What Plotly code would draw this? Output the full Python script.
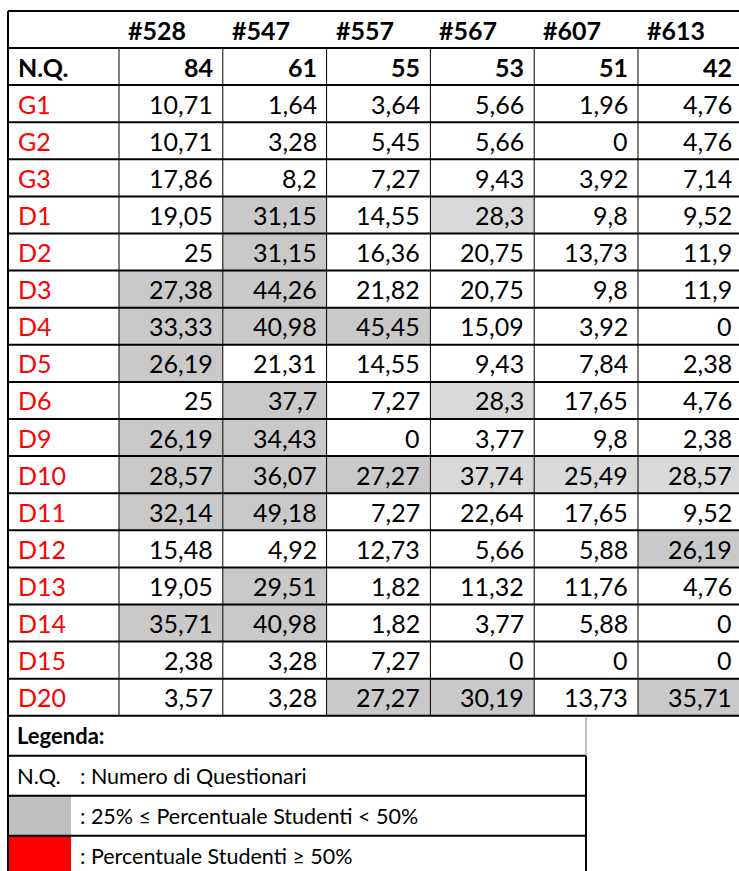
import plotly.graph_objects as go

# ---------------- data ----------------
columns = ["#528", "#547", "#557", "#567", "#607", "#613"]
nq_values = [84, 61, 55, 53, 51, 42]
row_labels = ["G1", "G2", "G3", "D1", "D2", "D3", "D4", "D5", "D6", "D9",
              "D10", "D11", "D12", "D13", "D14", "D15", "D20"]
g1 = [10.71, 1.64, 3.64, 5.66, 1.96, 4.76]
g2 = [10.71, 3.28, 5.45, 5.66, 0, 4.76]
g3 = [17.86, 8.2, 7.27, 9.43, 3.92, 7.14]
d1 = [19.05, 31.15, 14.55, 28.3, 9.8, 9.52]
d2 = [25, 31.15, 16.36, 20.75, 13.73, 11.9]
d3 = [27.38, 44.26, 21.82, 20.75, 9.8, 11.9]
d4 = [33.33, 40.98, 45.45, 15.09, 3.92, 0]
d5 = [26.19, 21.31, 14.55, 9.43, 7.84, 2.38]
d6 = [25, 37.7, 7.27, 28.3, 17.65, 4.76]
d9 = [26.19, 34.43, 0, 3.77, 9.8, 2.38]
d10 = [28.57, 36.07, 27.27, 37.74, 25.49, 28.57]
d11 = [32.14, 49.18, 7.27, 22.64, 17.65, 9.52]
d12 = [15.48, 4.92, 12.73, 5.66, 5.88, 26.19]
d13 = [19.05, 29.51, 1.82, 11.32, 11.76, 4.76]
d14 = [35.71, 40.98, 1.82, 3.77, 5.88, 0]
d15 = [2.38, 3.28, 7.27, 0, 0, 0]
d20 = [3.57, 3.28, 27.27, 30.19, 13.73, 35.71]
table_values = [g1, g2, g3, d1, d2, d3, d4, d5, d6, d9, d10, d11, d12, d13, d14, d15, d20]

legend_title = "Legenda:"
legend_items = [("N.Q.", ": Numero di Questionari"),
                ("", ": 25% \u2264 Percentuale Studenti < 50%"),
                ("", ": Percentuale Studenti \u2265 50%")]

# ---------------- style ----------------
W, H = 739, 871
FONT = "Lato, Carlito, Calibri, sans-serif"
FS = 25
GREY = "#C9C9C9"
GREY_LIGHT = "#D9D9D9"
RED = "#FF0000"
light_cells = {("D1", "#567"), ("D6", "#567"), ("D10", "#567"), ("D10", "#607"), ("D10", "#613")}

X0 = 8
LABEL_W = 111
COL_W = 103.8
TOP = 11
HEAD_H = 37
ROW_H = 37.1
LEG_H = 40
LEG_RIGHT = 586
SWATCH_W = 63

col_edges = [X0, X0 + LABEL_W] + [X0 + LABEL_W + COL_W * (i + 1) for i in range(len(columns))]
n_rows = 1 + len(row_labels)
row_edges = [TOP + HEAD_H + ROW_H * i for i in range(n_rows + 1)]
table_bottom = row_edges[-1]
leg_edges = [table_bottom + LEG_H * i for i in range(5)]


def fmt(v):
    return f"{v:g}".replace(".", ",")


shapes = []
annotations = []


def rect(x0, y0, x1, y1, color):
    shapes.append(dict(type="rect", xref="x", yref="y", x0=x0, x1=x1, y0=y0, y1=y1,
                       fillcolor=color, line=dict(width=0), layer="below"))


def line(x0, y0, x1, y1, w=2, color="black"):
    shapes.append(dict(type="line", xref="x", yref="y", x0=x0, x1=x1, y0=y0, y1=y1,
                       line=dict(color=color, width=w), layer="above"))


def text(x, y, s, anchor="left", bold=False, color="black", size=FS):
    annotations.append(dict(xref="x", yref="y", x=x, y=y, text=(f"<b>{s}</b>" if bold else s),
                            showarrow=False, xanchor=anchor, yanchor="middle",
                            font=dict(family=FONT, size=size, color=color)))


# header
for i, c in enumerate(columns):
    text(col_edges[i + 1] + 7, (TOP + row_edges[0]) / 2, c, bold=True)

# N.Q. row
yc = (row_edges[0] + row_edges[1]) / 2
text(X0 + 8, yc, "N.Q.", bold=True)
for i, v in enumerate(nq_values):
    text(col_edges[i + 2] - 8, yc, str(v), anchor="right", bold=True)

# data rows
for r, (lab, vals) in enumerate(zip(row_labels, table_values)):
    y0, y1 = row_edges[r + 1], row_edges[r + 2]
    yc = (y0 + y1) / 2
    text(X0 + 8, yc, lab, color=RED)
    for i, v in enumerate(vals):
        if 25 < v < 50:
            col = GREY_LIGHT if (lab, columns[i]) in light_cells else GREY
            rect(col_edges[i + 1], y0, col_edges[i + 2], y1, col)
        elif v >= 50:
            rect(col_edges[i + 1], y0, col_edges[i + 2], y1, RED)
        text(col_edges[i + 2] - 8, yc, fmt(v), anchor="right")

# table lines
line(X0, TOP, W + 5, TOP)
for y in row_edges:
    line(X0, y, W + 5, y)
line(X0, TOP, X0, table_bottom)
for x in col_edges[1:]:
    line(x, row_edges[0], x, table_bottom, w=1)

# legend
rect(X0, leg_edges[2], X0 + SWATCH_W, leg_edges[3], "#C0C0C0")
rect(X0, leg_edges[3], X0 + SWATCH_W, leg_edges[4], RED)
text(X0 + 7, (leg_edges[0] + leg_edges[1]) / 2, legend_title, bold=True, size=22)
for k, (a, b) in enumerate(legend_items):
    yc = (leg_edges[k + 1] + leg_edges[k + 2]) / 2
    if a:
        text(X0 + 7, yc, a, size=22)
    text(X0 + 70, yc, b, size=21.5)
for y in leg_edges[1:4]:
    line(X0, y, LEG_RIGHT, y)
line(X0, table_bottom, X0, H + 5)
line(LEG_RIGHT, leg_edges[0], LEG_RIGHT, leg_edges[1], w=1, color="#808080")
line(LEG_RIGHT, leg_edges[1], LEG_RIGHT, H + 5)

fig = go.Figure()
fig.update_layout(
    width=W, height=H, margin=dict(l=0, r=0, t=0, b=0),
    paper_bgcolor="white", plot_bgcolor="white",
    xaxis=dict(range=[0, W], visible=False, fixedrange=True),
    yaxis=dict(range=[H, 0], visible=False, fixedrange=True),
    shapes=shapes, annotations=annotations, showlegend=False,
)
fig.write_html(
    "out.html",
    config={"displayModeBar": False, "staticPlot": True},
    post_script="document.body.style.margin='0px';document.body.style.overflow='hidden';",
)
